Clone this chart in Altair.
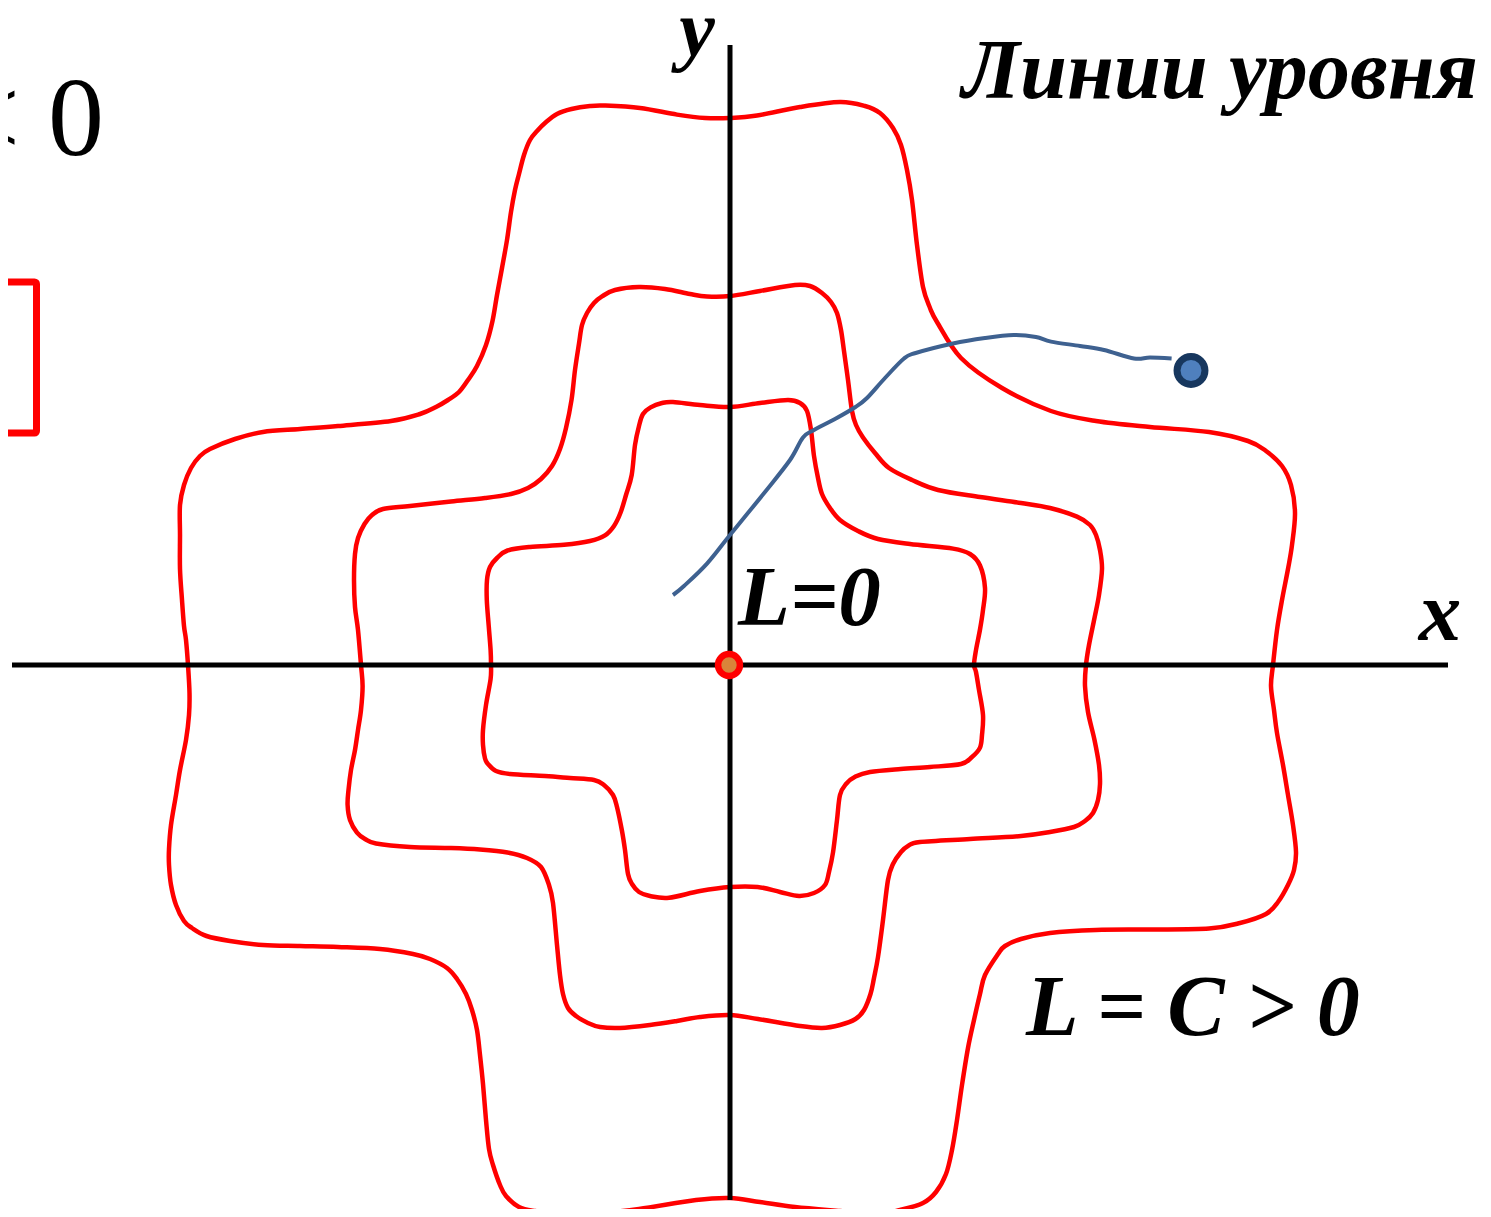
import altair as alt
import pandas as pd

# ---- traced data (pixel coordinates of the reference picture) ----
outer_x = [730, 757, 800, 840, 865, 880, 893, 901, 907, 912, 917, 923, 930, 937, 961, 1002, 1051, 1096, 1150, 1209, 1248, 1266, 1282, 1291, 1295, 1292, 1288, 1282, 1277, 1273,
           1271, 1274, 1277, 1283, 1288, 1293, 1296, 1294, 1288, 1278, 1266, 1240, 1209, 1150, 1096, 1050, 1021, 1005, 998, 985, 980, 974, 968, 962, 957, 952, 946, 936, 923, 900, 878, 840, 795, 760, 730,
           696, 639, 600, 564, 535, 519, 506, 500, 493, 489, 486, 483, 480, 477, 472, 466, 457, 447, 430, 413, 380, 338, 300, 263, 230, 206.5, 192, 184, 176, 171, 169, 169, 171, 176, 180, 186, 189, 189.5, 188,
           186, 184, 182, 180, 180, 180, 184, 191, 200, 210, 235, 263, 300, 338, 391, 420, 436, 448, 459, 468, 477, 486, 492.5, 497, 502, 507, 511, 515, 519, 524, 530, 538, 545, 557, 571.5, 590, 605, 640, 677, 705]
outer_y = [118, 115.5, 107, 102, 106, 113, 128, 145, 170, 200, 245, 287, 308, 322, 358, 388, 411, 421, 427, 432, 441, 451, 466, 485, 513, 545, 569, 600, 630, 665,
           686, 710, 733, 765, 795, 825, 852, 870, 885, 902, 914, 923, 928.5, 929.5, 930, 933, 939, 946, 954, 975, 994, 1020, 1048, 1085, 1120, 1150, 1174, 1192, 1203, 1210, 1214, 1211, 1207, 1202, 1198,
           1200, 1209, 1213, 1214, 1211, 1207, 1196, 1185, 1165, 1149, 1120, 1084, 1055, 1030, 1010, 994, 979, 968, 959, 954, 949, 947, 946, 945, 941, 936, 928, 921, 905, 885, 865, 849, 825, 795, 770, 740, 715, 693, 665,
           640, 626, 600, 569, 535, 505, 485, 468, 456, 449, 439, 432, 429, 426, 421, 414, 407, 400, 392, 380, 366, 345, 321, 295, 268, 240, 212, 190, 174, 155, 140, 130, 123, 114, 109, 106, 105.6, 108, 114.6, 118]

middle_x = [730, 760, 795, 810, 822, 831, 837, 841, 844, 848, 852, 856, 863, 875, 889, 912, 938, 980, 1021, 1050, 1077, 1090, 1096, 1100, 1102, 1099, 1094.5, 1089, 1086,
            1085, 1088, 1094.5, 1099, 1100, 1098, 1093, 1085, 1074, 1050, 1021, 970, 920, 908, 901, 893, 888, 883, 878, 874, 870.5, 864, 855.5, 840, 822, 800, 758, 730,
            700, 677, 650, 620, 600, 587, 576, 568, 563, 560, 557, 553, 549, 541, 527, 507.5, 480, 451, 410, 376, 365, 357, 350, 347.6, 348.5, 351, 355, 358, 361, 362.6, 361,
            358, 355, 354, 355, 358, 364.5, 372, 383, 410, 451, 485, 511, 528, 541, 552, 560, 566, 571.5, 575, 579, 582, 587, 594, 602, 615, 639, 665, 690, 707]
middle_y = [296, 291, 285, 286, 293, 302, 313, 330, 351, 380, 411, 425, 437.5, 453, 468, 480, 490, 497, 503, 508, 516.6, 525, 535, 550, 569, 595, 618, 645, 665,
            686, 712, 740, 765, 784, 800, 813, 821, 827, 832, 836, 839, 842, 846, 852, 864, 880, 920, 957, 978, 994, 1010, 1019, 1025, 1028, 1026, 1019, 1015,
            1017, 1021, 1025, 1028, 1027, 1022.5, 1016, 1008, 994, 975, 945, 903, 885, 867, 858, 852.5, 849.5, 848, 847, 843.5, 839, 832.6, 820, 805, 790, 770, 750, 730, 710, 686, 665,
            630, 607, 580, 554, 538, 524, 515, 509, 506, 501.5, 498, 494, 488, 479, 466, 449, 428, 400, 370, 343.5, 325, 313, 303, 296.4, 290, 287, 289, 294, 296.4]

inner_x = [730, 760, 788, 800, 807, 811, 814, 818, 822, 830, 840, 858, 878, 910, 953, 970, 980, 985, 983, 980, 976, 974,
           976, 979, 983, 982, 980, 972, 961, 930, 900.7, 870, 855.5, 846, 840, 837, 833, 829, 825, 814, 799, 780, 757.6, 730,
           700, 669, 650, 639, 632, 628, 625, 622, 617, 613, 604, 594, 570, 545, 510, 496, 488, 485, 483, 483, 486, 490.6, 491,
           490.6, 488.7, 486.8, 487, 490, 497, 507.5, 530, 564, 590, 605, 614, 620.5, 626, 631.7, 635, 639, 643, 650.6, 662, 673, 700]
inner_y = [407, 403, 400, 403, 411, 430, 456, 478, 494, 508, 520, 531, 539, 544, 548.6, 554, 565.5, 588, 610, 629.5, 650, 665,
           672, 690, 715, 735, 747.6, 757, 764, 767, 769, 772, 776.6, 784, 795, 820, 852.5, 872, 885, 893, 896, 892, 887, 887,
           891, 897.7, 896, 892, 884, 874, 850, 831, 807, 795, 785, 780, 778, 776, 774, 771, 764, 758.5, 745, 730, 705, 679, 665,
           650, 625.7, 600, 580, 567, 558, 550.5, 547, 544.8, 541, 535.4, 526, 512.8, 495, 475, 445, 426, 414, 407.4, 403, 402, 405]

traj_x = [673, 684, 707, 730, 765, 790, 803, 814, 835, 855.5, 867, 885, 904, 915.7, 953, 985, 1013.6, 1036, 1051, 1080, 1104, 1134, 1150, 1171.6]
traj_y = [595, 586, 563.6, 535, 492, 460, 437.5, 430, 419, 407, 398, 378, 358.5, 353, 343.5, 338, 335, 337, 341.6, 346, 350, 358.5, 357.5, 358.5]

end_point = [(1191, 370.5)]
origin_point = [(729, 665)]

axis_h = [(12, 1448, 665)]   # x1, x2, y
axis_v = [(730, 45, 1200)]   # x, y1, y2

box = [(-30, 36.5, 282, 433)]

labels = [
    {"text": "< 0", "x": 104, "y": 155},
    {"text": "Линии уровня", "x": 962, "y": 98},
    {"text": "y", "x": 697, "y": 56},
    {"text": "x", "x": 1440, "y": 640},
    {"text": "L=0", "x": 738, "y": 625},
    {"text": "L = C > 0", "x": 1026, "y": 1035},
]

# ---- chart ----
W, H = 1475, 1201
xs = alt.Scale(domain=[8, 8 + W], nice=False, zero=False)
ys = alt.Scale(domain=[8, 8 + H], nice=False, zero=False, reverse=True)


def X(f="x"):
    return alt.X(f"{f}:Q", scale=xs, axis=None)


def Y(f="y"):
    return alt.Y(f"{f}:Q", scale=ys, axis=None)


curves = []
for name, cx, cy in [("outer", outer_x, outer_y), ("middle", middle_x, middle_y), ("inner", inner_x, inner_y)]:
    df = pd.DataFrame({"x": cx, "y": cy, "i": range(len(cx)), "c": name})
    curves.append(
        alt.Chart(df).mark_line(color="#FF0000", strokeWidth=4.5, interpolate="cardinal-closed", clip=False)
        .encode(x=X(), y=Y(), order="i:Q")
    )

ah = pd.DataFrame(axis_h, columns=["x", "x2", "y"])
av = pd.DataFrame(axis_v, columns=["x", "y", "y2"])
axes_h = alt.Chart(ah).mark_rule(color="black", strokeWidth=5).encode(x=X(), x2="x2:Q", y=Y())
axes_v = alt.Chart(av).mark_rule(color="black", strokeWidth=5).encode(x=X(), y=Y(), y2="y2:Q")

bx = pd.DataFrame(box, columns=["x", "x2", "y", "y2"])
box_l = alt.Chart(bx).mark_rect(fillOpacity=0, stroke="#FF0000", strokeWidth=7, cornerRadius=2, clip=True).encode(
    x=X(), x2="x2:Q", y=Y(), y2="y2:Q")

tdf = pd.DataFrame({"x": traj_x, "y": traj_y, "i": range(len(traj_x))})
traj = alt.Chart(tdf).mark_line(color="#3E6190", strokeWidth=4, interpolate="cardinal").encode(
    x=X(), y=Y(), order="i:Q")

ep = pd.DataFrame(end_point, columns=["x", "y"])
endp = alt.Chart(ep).mark_circle(size=780, fill="#4F80BE", stroke="#17375E", strokeWidth=7, opacity=1).encode(
    x=X(), y=Y())

op = pd.DataFrame(origin_point, columns=["x", "y"])
orig = alt.Chart(op).mark_circle(size=480, fill="#D9843A", stroke="#FF0000", strokeWidth=6.5, opacity=1).encode(
    x=X(), y=Y())

ld = pd.DataFrame(labels)


def lab(t, size, align="left", style="italic", weight="bold"):
    d = ld[ld.text == t]
    return alt.Chart(d).mark_text(font="Liberation Serif", fontSize=size, fontStyle=style, fontWeight=weight,
                                  align=align, baseline="alphabetic", color="black").encode(
        x=X(), y=Y(), text="text:N")


texts = [
    lab("< 0", 112, align="right", style="normal", weight="normal"),
    lab("Линии уровня", 84.5),
    lab("y", 80, align="center"),
    lab("x", 85, align="center"),
    lab("L=0", 85),
    lab("L = C > 0", 86),
]

chart = alt.layer(box_l, *curves, axes_h, axes_v, traj, endp, orig, *texts).properties(
    width=W, height=H, padding=0, autosize=alt.AutoSizeParams(type="none"),
    background="white"
).configure_view(strokeWidth=0)

chart.save("out.html", embed_options={"renderer": "svg", "actions": False})
